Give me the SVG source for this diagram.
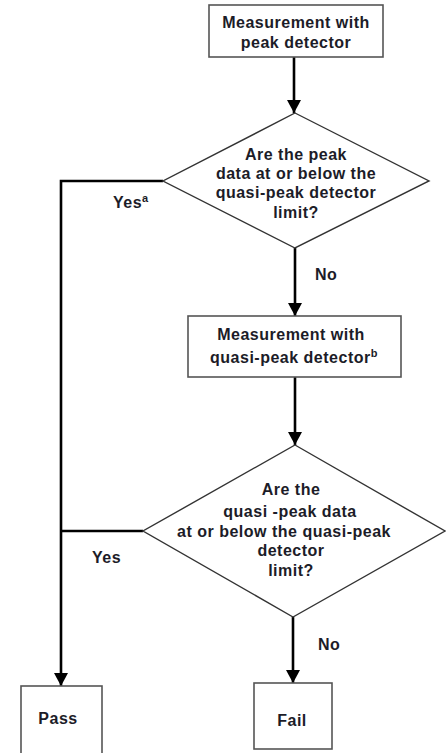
<svg xmlns="http://www.w3.org/2000/svg" width="446" height="753" viewBox="0 0 446 753">
<style>
.box{fill:#fff;stroke:#555;stroke-width:1.6}
.dia{fill:#fff;stroke:#333;stroke-width:1.4}
.t{font-family:"Liberation Sans",Arial,sans-serif;font-weight:bold;font-size:16px;letter-spacing:0.5px;fill:#1c1c28;text-anchor:middle}
.l{font-family:"Liberation Sans",Arial,sans-serif;font-weight:bold;font-size:16px;letter-spacing:0.5px;fill:#1c1c28}
.sup{font-size:11px}
.c{fill:none;stroke:#000;stroke-width:2.6}
</style>
<defs>
<marker id="ah" markerUnits="userSpaceOnUse" markerWidth="14" markerHeight="14" refX="13" refY="7" orient="auto" viewBox="0 0 14 14">
<path d="M0,0 L13,7 L0,14 z" fill="#000"/>
</marker>
</defs>
<g id="connectors">
<path class="c" d="M294,57 V113" marker-end="url(#ah)"/>
<path class="c" d="M163,181 H61 V686" marker-end="url(#ah)"/>
<path class="c" d="M295,248 V316" marker-end="url(#ah)"/>
<path class="c" d="M295,377 V445" marker-end="url(#ah)"/>
<path class="c" d="M143,531 H61"/>
<path class="c" d="M293,617 V683" marker-end="url(#ah)"/>
<text class="l" x="113" y="208">Yes<tspan class="sup" dy="-6">a</tspan></text>
<text class="l" x="315" y="280">No</text>
<text class="l" x="92" y="563">Yes</text>
<text class="l" x="318" y="650">No</text>
</g>
<g id="n1">
<rect class="box" x="209" y="5" width="174" height="52"/>
<text class="t" x="296" y="28">Measurement with</text>
<text class="t" x="296" y="48">peak detector</text>
</g>
<g id="d1">
<polygon class="dia" points="295,113 429,181 295,248 163,181"/>
<text class="t" x="296" y="160">Are the peak</text>
<text class="t" x="296" y="179">data at or below the</text>
<text class="t" x="296" y="198">quasi-peak detector</text>
<text class="t" x="296" y="218">limit?</text>
</g>
<g id="n2">
<rect class="box" x="188" y="316" width="213" height="61"/>
<text class="t" x="291" y="340">Measurement with</text>
<text class="t" x="294" y="363">quasi-peak detector<tspan class="sup" dy="-6">b</tspan></text>
</g>
<g id="d2">
<polygon class="dia" points="295,445 445,531 293,617 143,531"/>
<text class="t" x="291" y="495">Are the</text>
<text class="t" x="290" y="517">quasi -peak data</text>
<text class="t" x="284" y="537">at or below the quasi-peak</text>
<text class="t" x="291" y="556">detector</text>
<text class="t" x="291" y="576">limit?</text>
</g>
<g id="pass">
<rect class="box" x="21" y="686" width="81" height="70"/>
<text class="t" x="58" y="724">Pass</text>
</g>
<g id="fail">
<rect class="box" x="254" y="683" width="78" height="66"/>
<text class="t" x="292" y="726">Fail</text>
</g>
</svg>
